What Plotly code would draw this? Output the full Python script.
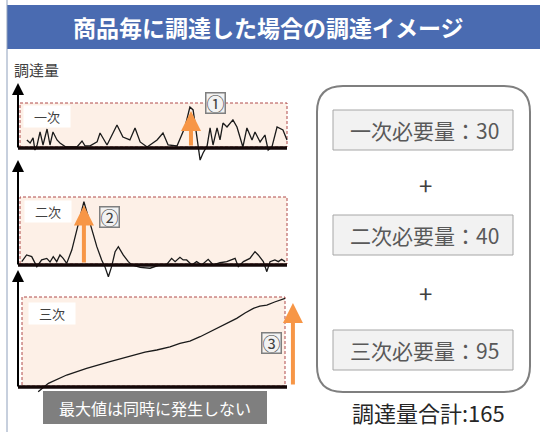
import plotly.graph_objects as go

# ---------------- data ----------------
title_text = "商品毎に調達した場合の調達イメージ"
y_label = "調達量"
panel_labels = ["一次", "二次", "三次"]
circled = ["①", "②", "③"]
required = [30, 40, 95]
req_labels = ["一次必要量：30", "二次必要量：40", "三次必要量：95"]
total_label = "調達量合計:165"
note_text = "最大値は同時に発生しない"
peak_t = [64.3, 24.5, 102.2]

t1 = [3.3, 4.5, 5.6, 6.3, 7.1, 8.2, 9.3, 10.8, 11.9, 13.0, 14.5, 15.6, 17.8, 21.9, 23.8, 24.9,
      26.8, 29.4, 30.5, 33.1, 36.8, 39.0, 41.6, 43.5, 45.4, 48.0, 51.7, 53.9, 55.8, 59.1,
      62.1, 63.9, 65.1, 66.5, 67.7, 68.8, 70.3, 71.4, 72.5, 74.0, 75.1, 76.2, 77.7, 79.9,
      81.4, 82.5, 83.6, 85.1, 87.0, 88.1, 90.0, 91.8, 93.0, 94.4, 96.3, 98.5, 100.0]
v1 = [5.3, 3.0, 6.8, -2.3, 1.5, 11.3, 1.5, 13.5, 1.5, 11.3, 5.3, 3.0, 0.0, 0.0, 4.5, 0.8,
      0.8, 3.8, 10.5, 1.5, 16.5, 7.5, 5.3, 14.3, 3.8, 0.0, 5.3, 10.5, 1.5, 0.8,
      15.0, 30.0, 27.8, 5.3, -9.8, -4.5, 0.8, 14.3, 1.5, 14.3, 5.3, 18.0, 15.0, 20.3,
      15.0, 7.5, 0.0, 14.3, 5.3, 11.3, 3.8, 9.0, -2.3, 0.0, 15.0, 12.8, 5.3]

t2 = [1.4, 3.2, 5.1, 7.0, 8.8, 10.7, 11.9, 13.1, 14.4, 15.6, 16.8, 18.1, 20.0, 21.8, 24.5,
      26.8, 29.3, 31.1, 32.3, 33.6, 34.8, 36.1, 37.3, 39.1, 41.0, 42.3, 45.4, 49.1, 52.8,
      55.3, 57.1, 58.4, 60.2, 61.4, 62.7, 64.6, 66.4, 68.3, 70.7, 72.6, 75.1, 77.6, 80.7,
      81.9, 83.8, 86.2, 88.1, 89.3, 91.2, 92.5, 93.7, 95.5, 96.8, 98.0, 99.3]
v2 = [1.5, 5.8, 4.7, -1.7, 2.6, 3.6, 1.3, 4.7, 1.5, 5.8, 3.6, 0.4, 8.9, 21.7, 39.8,
      26.0, 11.1, 2.6, -1.7, -8.1, -1.7, 7.9, 11.1, 5.8, 1.5, -0.6, -2.1, -2.7, -0.6,
      -0.2, 3.6, 1.5, 4.3, 2.6, 2.6, -0.6, 1.5, -0.6, 3.0, -0.6, 0.8, 1.5, 3.6,
      -1.7, 1.5, 3.6, 7.9, 5.8, 1.5, -4.9, 1.5, 2.6, 1.5, 3.0, 1.5]

t3 = [7.5, 11.3, 18.1, 25.5, 34.2, 37.9, 42.9, 47.2, 51.6, 56.5, 60.2, 63.9, 67.7, 70.6,
      73.9, 77.3, 81.3, 84.4, 87.5, 89.9, 92.5, 95.4, 99.3]
v3 = [-6.2, 2.9, 12.0, 19.3, 26.5, 29.5, 33.8, 37.1, 39.3, 42.6, 46.6, 49.1, 53.8, 57.9,
      63.0, 67.7, 73.9, 79.7, 84.8, 87.3, 88.4, 91.7, 95.7]

# ---------------- geometry helpers ----------------
W, H = 540, 432
def X(px): return px / W
def Y(py): return 1 - py / H

FONT = "Noto Sans CJK JP"
X_LEFT, X_RIGHT = 18, 300          # x-axis domain in px
PX_PER_T = 2.69
panels = [
    dict(base=147, sc=1.333, bot=163, top=84, rect=(20, 103, 287, 147), atop=83,
         lab=(47, 116), circ=(215, 103)),
    dict(base=264, sc=1.565, bot=281, top=190, rect=(20, 197, 287, 264), atop=160,
         lab=(48, 211), circ=(109, 217)),
    dict(base=386, sc=0.916, bot=394, top=290, rect=(22, 297, 285, 386), atop=270,
         lab=(52, 313), circ=(271, 343)),
]
series = [(t1, v1), (t2, v2), (t3, v3)]

fig = go.Figure()
shapes = []
annotations = []

def txt(px, py, text, size, color, **kw):
    d = dict(xref="paper", yref="paper", x=X(px), y=Y(py), text=text, showarrow=False,
             xanchor="center", yanchor="middle", font=dict(family=FONT, size=size, color=color))
    d.update(kw)
    return d

for i, (p, (tt, vv)) in enumerate(zip(panels, series)):
    n = "" if i == 0 else str(i + 1)
    xa, ya = "x" + n, "y" + n
    fig.add_trace(go.Scatter(x=tt, y=vv, mode="lines", xaxis=xa, yaxis=ya,
                             line=dict(color="#1a1a1a", width=1.3), hoverinfo="skip",
                             showlegend=False))
    rng = [(p["base"] - p["bot"]) / p["sc"], (p["base"] - p["top"]) / p["sc"]]
    fig.update_layout({
        ("xaxis" + n): dict(domain=[X(X_LEFT), X(X_RIGHT)],
                            range=[0, (X_RIGHT - X_LEFT) / PX_PER_T], visible=False,
                            anchor=ya),
        ("yaxis" + n): dict(domain=[Y(p["bot"]), Y(p["top"])], range=rng, visible=False,
                            anchor=xa),
    })
    x0, y0, x1, y1 = p["rect"]
    shapes.append(dict(type="rect", xref="paper", yref="paper", x0=X(x0), x1=X(x1),
                       y0=Y(y1), y1=Y(y0), fillcolor="#FDF0E7", layer="below",
                       line=dict(color="#B04A4A", width=1, dash="3px,2px")))
    # baseline
    shapes.append(dict(type="line", xref="paper", yref="paper", x0=X(18), x1=X(287),
                       y0=Y(p["base"] + 1), y1=Y(p["base"] + 1),
                       line=dict(color="#140808", width=3.5)))
    # y axis arrow
    annotations.append(dict(xref="paper", yref="paper", axref="pixel", ayref="pixel",
                            x=X(18), y=Y(p["atop"]), ax=0, ay=p["base"] + 2 - p["atop"],
                            text="", showarrow=True, arrowhead=2, arrowsize=1.2,
                            arrowwidth=2, arrowcolor="#000000"))
    # orange arrow to required level
    annotations.append(dict(xref=xa, yref=ya, axref=xa, ayref=ya,
                            x=peak_t[i], y=required[i], ax=peak_t[i], ay=0,
                            text="", showarrow=True, arrowhead=2, arrowsize=1.0,
                            arrowwidth=4, arrowcolor="#F79646", standoff=4))
    # panel label
    annotations.append(txt(p["lab"][0], p["lab"][1], panel_labels[i], 13, "#404040",
                           bgcolor="#FFFFFF", borderpad=1, width=44))
    # circled number box
    annotations.append(txt(p["circ"][0], p["circ"][1], circled[i], 18, "#404040",
                           bgcolor="#F2F2F2", bordercolor="#7F7F7F", borderwidth=1.5,
                           borderpad=0, width=18, height=19))

# title bar
shapes.append(dict(type="rect", xref="paper", yref="paper", x0=X(7), x1=X(540),
                   y0=Y(49), y1=Y(5), fillcolor="#4A6BB1", line=dict(width=0)))
annotations.append(txt(268, 27, "<b>" + title_text + "</b>", 23, "#FFFFFF"))
# left border
shapes.append(dict(type="line", xref="paper", yref="paper", x0=X(7), x1=X(7), y0=0, y1=1,
                   line=dict(color="#8FA0BC", width=1)))
# y label
annotations.append(txt(12, 70, y_label, 15, "#404040", xanchor="left"))
# note box
shapes.append(dict(type="rect", xref="paper", yref="paper", x0=X(43), x1=X(267),
                   y0=Y(424), y1=Y(391), fillcolor="#7F7F7F", line=dict(width=0)))
annotations.append(txt(155, 408, note_text, 16, "#FFFFFF"))

# right rounded box
rx0, ry0, rx1, ry1, r = 317, 86, 530, 392, 26
path = (f"M {X(rx0 + r)},{Y(ry0)} L {X(rx1 - r)},{Y(ry0)} Q {X(rx1)},{Y(ry0)} {X(rx1)},{Y(ry0 + r)} "
        f"L {X(rx1)},{Y(ry1 - r)} Q {X(rx1)},{Y(ry1)} {X(rx1 - r)},{Y(ry1)} "
        f"L {X(rx0 + r)},{Y(ry1)} Q {X(rx0)},{Y(ry1)} {X(rx0)},{Y(ry1 - r)} "
        f"L {X(rx0)},{Y(ry0 + r)} Q {X(rx0)},{Y(ry0)} {X(rx0 + r)},{Y(ry0)} Z")
shapes.append(dict(type="path", xref="paper", yref="paper", path=path,
                   line=dict(color="#7F7F7F", width=2)))
box_y = [(110, 150), (215, 255), (330, 370)]
for lab, (b0, b1) in zip(req_labels, box_y):
    shapes.append(dict(type="rect", xref="paper", yref="paper", x0=X(333), x1=X(513),
                       y0=Y(b1), y1=Y(b0), fillcolor="#F2F2F2",
                       line=dict(color="#A6A6A6", width=1)))
    annotations.append(txt(424, (b0 + b1) / 2, lab, 21, "#595959"))
for py in (185, 292):
    annotations.append(txt(425, py, "+", 24, "#404040"))
annotations.append(txt(428, 412, total_label, 22, "#262626"))

fig.update_layout(width=W, height=H, margin=dict(l=0, r=0, t=0, b=0),
                  paper_bgcolor="#FFFFFF", plot_bgcolor="rgba(0,0,0,0)",
                  shapes=shapes, annotations=annotations, showlegend=False,
                  font=dict(family=FONT))
fig.write_html("out.html", config={"displayModeBar": False},
               post_script="document.body.style.margin='0';")
